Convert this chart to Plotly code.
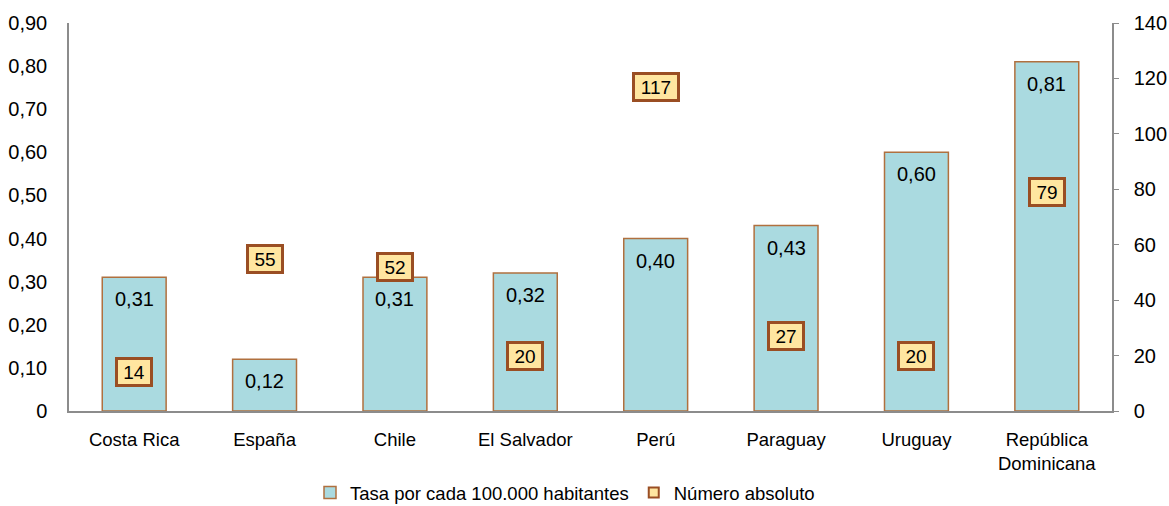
import plotly.graph_objects as go

# data
countries = ["Costa Rica", "España", "Chile", "El Salvador", "Perú", "Paraguay", "Uruguay",
             "República<br>Dominicana"]
tasa = [0.31, 0.12, 0.31, 0.32, 0.40, 0.43, 0.60, 0.81]
numero = [14, 55, 52, 20, 117, 27, 20, 79]
left_ticks = [0, 0.1, 0.2, 0.3, 0.4, 0.5, 0.6, 0.7, 0.8, 0.9]
left_labels = ["0", "0,10", "0,20", "0,30", "0,40", "0,50", "0,60", "0,70", "0,80", "0,90"]
right_ticks = [0, 20, 40, 60, 80, 100, 120, 140]

FONT = "Liberation Sans, Arial, sans-serif"
BAR_FILL = "#AADAE0"
BAR_LINE = "#B0703F"
BOX_FILL = "#FFE6A0"
BOX_LINE = "#9A4E23"
AXIS = "#8C8C8C"

fig = go.Figure()

fig.add_trace(go.Bar(
    x=countries, y=tasa, name="Tasa por cada 100.000 habitantes",
    marker=dict(color=BAR_FILL, line=dict(color=BAR_LINE, width=1.5)),
    width=0.49, yaxis="y",
))

# small markers under the labelled boxes (also give the legend symbol)
fig.add_trace(go.Scatter(
    x=countries, y=numero, name="Número absoluto", mode="markers",
    marker=dict(symbol="square", size=10, color=BOX_FILL, line=dict(color=BOX_LINE, width=2)),
    yaxis="y2",
))

annotations = []
for c, v in zip(countries, tasa):
    annotations.append(dict(
        x=c, y=v, xref="x", yref="y", text=f"{v:.2f}".replace(".", ","),
        showarrow=False, yshift=-22, font=dict(family=FONT, size=20, color="black"),
    ))
for c, v in zip(countries, numero):
    s = str(v)
    annotations.append(dict(
        x=c, y=v, xref="x", yref="y2", text=s, showarrow=False,
        font=dict(family=FONT, size=19, color="black"),
        bgcolor=BOX_FILL, bordercolor=BOX_LINE, borderwidth=3, borderpad=1,
        width=10 * len(s) + 10, height=22,
    ))

fig.update_layout(
    width=1169, height=506,
    margin=dict(l=69, r=57, t=23, b=95),
    plot_bgcolor="white", paper_bgcolor="white",
    font=dict(family=FONT, size=19, color="black"),
    showlegend=True,
    legend=dict(orientation="h", x=565 / 1169, xanchor="center", xref="container",
                y=(506 - 493) / 506, yanchor="middle", yref="container",
                font=dict(size=18.5), itemwidth=30, traceorder="normal"),
    xaxis=dict(showline=True, linecolor=AXIS, linewidth=1.5, ticks="", showgrid=False,
               ticklabelstandoff=11, automargin=False, tickfont=dict(size=18.5)),
    yaxis=dict(range=[0, 0.9], tickvals=left_ticks, ticktext=left_labels,
               showline=True, linecolor=AXIS, linewidth=1.5, ticks="", showgrid=False,
               zeroline=False, ticklabelstandoff=16, automargin=False, tickfont=dict(size=20)),
    yaxis2=dict(range=[0, 140], tickvals=right_ticks, overlaying="y", side="right",
                showline=True, linecolor=AXIS, linewidth=1.5, ticks="outside", ticklen=5,
                tickcolor=AXIS, showgrid=False, zeroline=False, ticklabelstandoff=11,
                automargin=False, tickfont=dict(size=20)),
    annotations=annotations,
)

fig.write_html("out.html", config={"displayModeBar": False},
               post_script="document.body.style.margin='0';")
